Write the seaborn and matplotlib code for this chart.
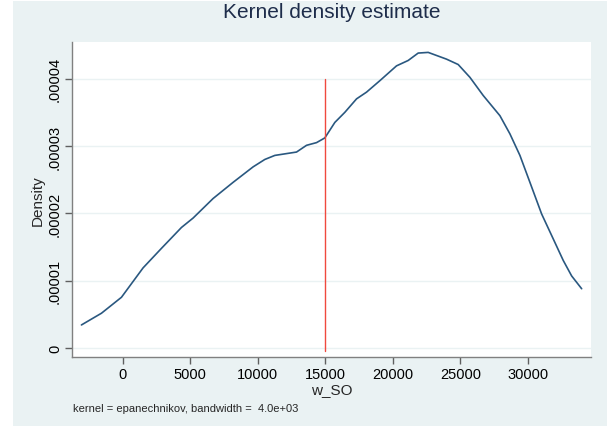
import matplotlib
matplotlib.use("Agg")
import matplotlib.pyplot as plt
from matplotlib.patches import Rectangle
import seaborn as sns
import pandas as pd

# Data
w_so = [-3059, -1578, -96, 1506, 2867, 4348, 5210, 6690, 8170, 9652, 10519, 11259,
        12867, 13607, 14348, 14963, 15704, 16444, 17311, 18052, 19037, 20270, 21133,
        21874, 22615, 23970, 24837, 25704, 26689, 27926, 28667, 29407, 30148, 31015,
        31874, 32615, 33237, 33978]
density = [0.342e-5, 0.516e-5, 0.753e-5, 1.19e-5, 1.48e-5, 1.79e-5, 1.93e-5, 2.22e-5,
           2.46e-5, 2.69e-5, 2.80e-5, 2.86e-5, 2.91e-5, 3.01e-5, 3.05e-5, 3.12e-5,
           3.35e-5, 3.50e-5, 3.70e-5, 3.80e-5, 3.97e-5, 4.19e-5, 4.27e-5, 4.38e-5,
           4.39e-5, 4.29e-5, 4.21e-5, 4.02e-5, 3.75e-5, 3.45e-5, 3.18e-5, 2.86e-5,
           2.46e-5, 1.99e-5, 1.62e-5, 1.30e-5, 1.07e-5, 0.88e-5]
vline_x = [15000, 15000]
vline_y = [-0.0000005, 0.00004]
x_ticks = [0, 5000, 10000, 15000, 20000, 25000, 30000]
y_ticks = [0, 0.00001, 0.00002, 0.00003, 0.00004]
y_tick_labels = ["0", ".00001", ".00002", ".00003", ".00004"]
title = "Kernel density estimate"
x_label = "w_SO"
y_label = "Density"
note = "kernel = epanechnikov, bandwidth =  4.0e+03"

sns.set_style("white")
plt.rcParams["font.family"] = ["Liberation Sans", "DejaVu Sans"]

bg = "#EAF2F3"
navy = "#2A5880"
W, H = 607, 427
fig = plt.figure(figsize=(W / 100, H / 100), dpi=100, facecolor="white")
fig.patches.append(Rectangle((12.7 / W, 0), 1 - 12.7 / W, 1 - 2 / H,
                             transform=fig.transFigure, facecolor=bg,
                             edgecolor="none", zorder=-10))

ax = fig.add_axes([71.7 / W, 1 - 358 / H, (591 - 71.7) / W, (358 - 43.3) / H])
ax.set_facecolor("white")

df = pd.DataFrame({"w_SO": w_so, "Density": density})
sns.lineplot(data=df, x="w_SO", y="Density", ax=ax, color=navy, linewidth=1.2,
             sort=False, estimator=None)
ax.plot(vline_x, vline_y, color="#F0493E", linewidth=1.0)

ax.set_xlim(-3780, 34670)
ax.set_ylim(-1.34e-6, 4.54e-5)
ax.set_xticks(x_ticks)
ax.set_xticklabels([str(t) for t in x_ticks], fontsize=10.5)
ax.set_yticks(y_ticks)
ax.set_yticklabels(y_tick_labels, fontsize=10.5, rotation=90, va="center")
ax.yaxis.grid(True, color=bg, linewidth=1.0)
ax.xaxis.grid(False)
ax.set_axisbelow(True)

for side in ["top", "right"]:
    ax.spines[side].set_visible(False)
for side in ["left", "bottom"]:
    ax.spines[side].set_color("#808080")
    ax.spines[side].set_linewidth(1.0)
ax.tick_params(axis="both", which="both", direction="out", length=5, width=1,
               color="#606060", labelcolor="black", pad=2,
               bottom=True, left=True)

ax.set_xlabel(x_label, fontsize=11, labelpad=1)
ax.set_ylabel(y_label, fontsize=11, labelpad=2)
fig.text((71.7 + 591) / 2 / W, 1 - 13 / H, title, fontsize=15, color="#1E2D4B",
         ha="center", va="center")
fig.text(73 / W, 1 - 409 / H, note, fontsize=8, va="center", ha="left")

fig.savefig("out.png", dpi=100, facecolor="white")
